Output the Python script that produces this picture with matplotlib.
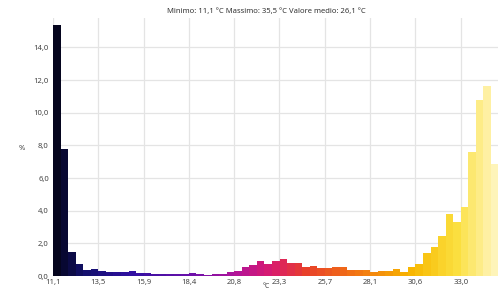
import numpy as np
import matplotlib
matplotlib.use("Agg")
import matplotlib.pyplot as plt
from matplotlib.colors import LinearSegmentedColormap

t_min = 11.1
t_max = 35.5
t_mean = 26.1

# percentuale per classe (60 classi tra minimo e massimo)
percent = [
    15.4, 7.8, 1.45, 0.75, 0.35, 0.45, 0.3, 0.22, 0.24, 0.22,
    0.3, 0.2, 0.18, 0.15, 0.15, 0.12, 0.13, 0.15, 0.2, 0.15,
    0.06, 0.12, 0.15, 0.25, 0.32, 0.53, 0.68, 0.9, 0.73, 0.91,
    1.03, 0.78, 0.79, 0.57, 0.63, 0.5, 0.47, 0.55, 0.57, 0.37,
    0.36, 0.36, 0.27, 0.31, 0.29, 0.4, 0.27, 0.57, 0.75, 1.39,
    1.75, 2.43, 3.77, 3.32, 4.22, 7.57, 10.8, 11.64, 6.83, 2.9,
]
x_labels = ["11,1", "13,5", "15,9", "18,4", "20,8", "23,3", "25,7", "28,1", "30,6", "33,0"]
y_ticks = [0, 2, 4, 6, 8, 10, 12, 14]

cmap = LinearSegmentedColormap.from_list("temp", [
    (0.0, "#05051e"),
    (0.06, "#12106a"),
    (0.16, "#2e10a0"),
    (0.3, "#6a10aa"),
    (0.4, "#b0149a"),
    (0.48, "#d81a70"),
    (0.56, "#e8402a"),
    (0.68, "#f27812"),
    (0.8, "#f8b800"),
    (0.9, "#fbe040"),
    (1.0, "#fff8d0"),
])

n = len(percent)
edges = np.linspace(t_min, t_max, n + 1)
width = edges[1] - edges[0]
colors = [cmap(i / (n - 1)) for i in range(n)]

plt.rcParams['font.family'] = ['Noto Sans', 'DejaVu Sans']

fig = plt.figure(figsize=(4.98, 2.89), dpi=100)
ax = fig.add_axes([53 / 498, 13 / 289, (506 - 53) / 498, (276 - 18) / 289])

ax.bar(edges[:-1], percent, width=width, align='edge', color=colors, linewidth=0, zorder=2)

tick_pos = [t_min + k * 6 * width for k in range(len(x_labels))]
ax.set_xticks(tick_pos)
ax.set_xticklabels(x_labels)
ax.set_yticks(y_ticks)
ax.set_yticklabels(["{:.1f}".format(v).replace('.', ',') for v in y_ticks])
ax.set_xlim(t_min, t_max)
ax.set_ylim(0, 15.8)

ax.grid(True, color='#e4e4e4', linewidth=0.9, zorder=0)
ax.set_axisbelow(True)
for s in ax.spines.values():
    s.set_visible(False)
ax.tick_params(length=0, labelsize=5.5, colors='#444444')
ax.tick_params(axis='x', pad=2.5)
ax.tick_params(axis='y', pad=3)

fig.text(22 / 498, 1 - 148 / 289, "%", fontsize=5.5, color='#444444', ha='center', va='center')
fig.text(266 / 498, 1 - 287 / 289, "°C", fontsize=5, color='#444444', ha='center', va='center')
title = "Minimo: {} °C Massimo: {} °C Valore medio: {} °C".format(
    str(t_min).replace('.', ','), str(t_max).replace('.', ','), str(t_mean).replace('.', ','))
fig.text(266 / 498, 1 - 12 / 289, title, fontsize=5.5, color='#333333', ha='center', va='center')

fig.savefig("out.png", dpi=100)
